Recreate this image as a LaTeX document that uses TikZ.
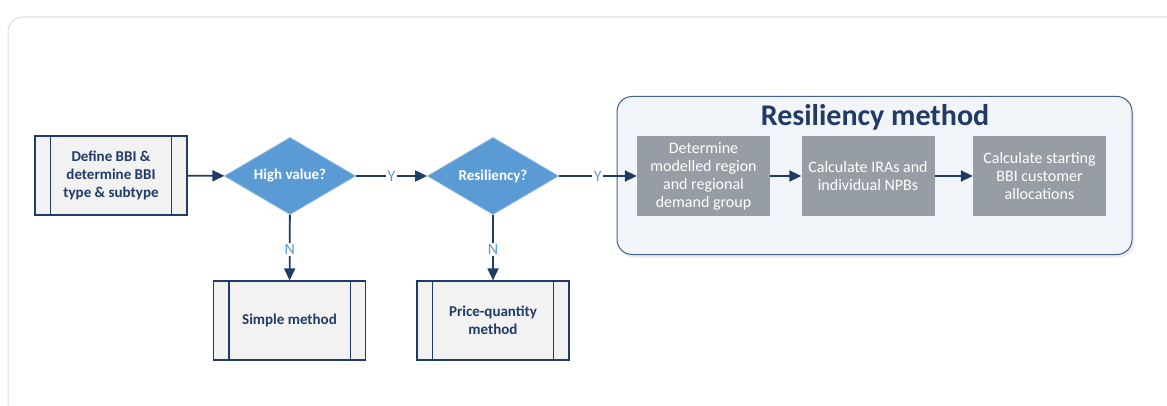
\documentclass[tikz,border=0pt]{standalone}
\usepackage{fontspec}
\setmainfont{Carlito}
\usetikzlibrary{arrows.meta,positioning,shapes.geometric,shadows}
\definecolor{flowNavy}{HTML}{1F3B66}
\definecolor{flowBlue}{HTML}{5B9BD5}
\definecolor{flowPanel}{HTML}{F2F2F2}
\definecolor{flowSteel}{HTML}{979DA5}
\definecolor{flowGroup}{HTML}{F1F4F8}
\definecolor{flowGroupLine}{HTML}{41618C}
\definecolor{flowCard}{HTML}{DCDEE2}
\tikzset{
  every picture/.style={font=\fontsize{15}{18}\selectfont},
  flow sub/.style={draw=flowNavy, line width=1.2pt, fill=flowPanel,
    text=flowNavy, font=\fontsize{15}{18}\selectfont\bfseries,
    align=center, minimum width=152pt, minimum height=79pt, inner sep=0pt},
  flow sub line/.style={draw=flowNavy, line width=1.2pt},
  flow decision/.style={diamond, fill=flowBlue, draw=flowBlue!75!white,
    line width=0.8pt, text=white, font=\fontsize{15}{18}\selectfont\bfseries,
    minimum width=131pt, minimum height=77pt, aspect=1.7, inner sep=0pt},
  flow step/.style={fill=flowSteel, text=white, align=center,
    font=\fontsize{16}{18}\selectfont,
    minimum width=133pt, minimum height=80pt, inner sep=0pt},
  flow group/.style={draw=flowGroupLine, line width=1pt, fill=flowGroup,
    rounded corners=15pt, minimum width=515pt, minimum height=158pt,
    drop shadow={shadow xshift=2pt, shadow yshift=-3pt, opacity=0.10, fill=flowNavy}},
  flow title/.style={text=flowNavy, font=\fontsize{30}{32}\selectfont\bfseries},
  flow arrow/.style={-{Triangle[length=12pt,width=11pt]}, draw=flowNavy,
    line width=1.8pt},
  flow answer/.style={fill=white, text=flowBlue, inner sep=1.5pt,
    font=\fontsize{16}{18}\selectfont}
}

\begin{document}
\begin{tikzpicture}[x=1pt,y=-1pt]
  \useasboundingbox (0,0) rectangle (1167,406);
  \clip (0,0) rectangle (1167,406);
  % card behind the chart
  \draw[flowCard, line width=1pt, rounded corners=15pt] (8,17) rectangle (1200,440);

  % main line
  \node[flow sub] (define) at (111,175.5) {Define BBI \&\\determine BBI\\type \& subtype};
  \node[flow decision] (high) at (290,176) {High value?};
  \node[flow decision] (resil) at (493,176) {Resiliency?};

  % the two other methods
  \node[flow sub] (simple) at (289.5,320.5) {Simple method};
  \node[flow sub] (price) at (493,320.5) {Price-quantity\\method};
  \foreach \n in {define,simple,price} {
    \draw[flow sub line] ([xshift=16pt]\n.north west) -- ([xshift=16pt]\n.south west);
    \draw[flow sub line] ([xshift=-16pt]\n.north east) -- ([xshift=-16pt]\n.south east);
  }

  % resiliency method group
  \node[flow group] (group) at (874.5,175.5) {};
  \node[flow title] (title) at (875,117) {Resiliency method};
  \node[flow step] (region) at (703.5,176) {Determine\\modelled region\\and regional\\demand group};
  \node[flow step] (ira) at (868,176) {Calculate IRAs and\\individual NPBs};
  \node[flow step] (alloc) at (1039.5,176) {Calculate starting\\BBI customer\\allocations};

  % connectors
  \draw[flow arrow] (define) -- (high);
  \draw[flow arrow] (high) -- node[flow answer] {Y} (resil);
  \draw[flow arrow] (resil) -- node[flow answer] {Y} (region);
  \draw[flow arrow] (high) -- node[flow answer, pos=0.53] {N} (simple);
  \draw[flow arrow] (resil) -- node[flow answer, pos=0.53] {N} (price);
  \draw[flow arrow] (region) -- (ira);
  \draw[flow arrow] (ira) -- (alloc);
\end{tikzpicture}
\end{document}
